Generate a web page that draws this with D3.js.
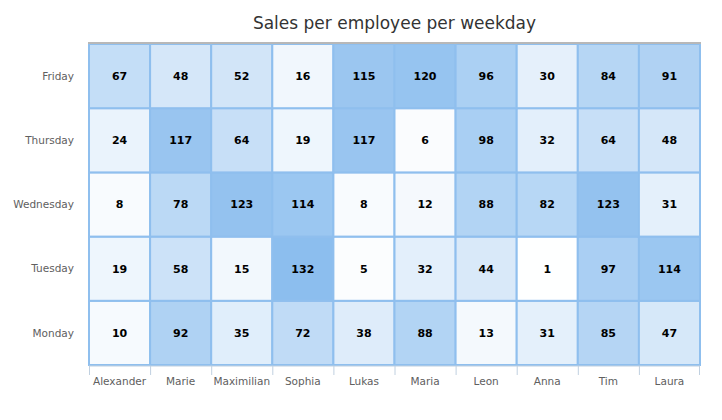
<!DOCTYPE html>
<html>
<head>
    <title>Sales per employee per weekday</title>
    <script src="https://d3js.org/d3.v7.min.js"></script>
    <style>
        body { margin: 0; background: #fff; }
        text { font-family: "DejaVu Sans", sans-serif; }
    </style>
</head>
<body>
    <div id="chart"></div>

    <script>
        const employees = ["Alexander", "Marie", "Maximilian", "Sophia", "Lukas", "Maria", "Leon", "Anna", "Tim", "Laura"];
        const weekdays = ["Monday", "Tuesday", "Wednesday", "Thursday", "Friday"];

        // sales per weekday, one value per employee
        const monday    = [10, 92, 35, 72, 38, 88, 13, 31, 85, 47];
        const tuesday   = [19, 58, 15, 132, 5, 32, 44, 1, 97, 114];
        const wednesday = [8, 78, 123, 114, 8, 12, 88, 82, 123, 31];
        const thursday  = [24, 117, 64, 19, 117, 6, 98, 32, 64, 48];
        const friday    = [67, 48, 52, 16, 115, 120, 96, 30, 84, 91];

        const rows = [monday, tuesday, wednesday, thursday, friday];
        const cells = [];
        rows.forEach((vals, r) => vals.forEach((v, c) => cells.push({ x: employees[c], y: weekdays[r], value: v })));

        const margin = { top: 44, right: 22, bottom: 55, left: 89 };
        const width = 722 - margin.left - margin.right;
        const height = 420 - margin.top - margin.bottom;

        const svg = d3.select("#chart").append("svg")
            .attr("width", 722)
            .attr("height", 420);

        svg.append("text")
            .attr("x", margin.left + width / 2)
            .attr("y", 29)
            .attr("text-anchor", "middle")
            .attr("fill", "#333333")
            .style("font-size", "17px")
            .text("Sales per employee per weekday");

        const g = svg.append("g")
            .attr("transform", "translate(" + margin.left + "," + margin.top + ")");

        const xScale = d3.scaleBand()
            .domain(employees)
            .range([0, width]);

        const yScale = d3.scaleBand()
            .domain(weekdays.slice().reverse())
            .range([0, height]);

        const color = d3.scaleLinear()
            .domain([0, 150])
            .range(["#ffffff", "#7cb5ec"]);

        g.selectAll("rect")
            .data(cells)
            .enter()
            .append("rect")
            .attr("x", d => xScale(d.x))
            .attr("y", d => yScale(d.y))
            .attr("width", xScale.bandwidth())
            .attr("height", yScale.bandwidth())
            .attr("fill", d => color(d.value))
            .attr("stroke", "#8fbfee")
            .attr("stroke-width", 2);

        g.selectAll(".label")
            .data(cells)
            .enter()
            .append("text")
            .attr("class", "label")
            .attr("x", d => xScale(d.x) + xScale.bandwidth() / 2)
            .attr("y", d => yScale(d.y) + yScale.bandwidth() / 2)
            .attr("dy", "0.35em")
            .attr("text-anchor", "middle")
            .attr("fill", "#000")
            .style("font-size", "11px")
            .style("font-weight", "bold")
            .text(d => d.value);

        // gray line along the top of the plot
        g.append("line")
            .attr("x1", -1).attr("x2", width + 1)
            .attr("y1", -1).attr("y2", -1)
            .attr("stroke", "#b8b8b8")
            .attr("stroke-width", 2);

        // x axis, ticks between categories
        const xAxis = g.append("g")
            .attr("transform", "translate(0," + (height + 1) + ")");
        xAxis.append("line")
            .attr("x1", 0).attr("x2", width)
            .attr("stroke", "#c0d0e0");
        xAxis.selectAll(".tick")
            .data(employees.concat(["end"]))
            .enter()
            .append("line")
            .attr("x1", (d, i) => i < employees.length ? xScale(d) + 0.5 : width - 0.5)
            .attr("x2", (d, i) => i < employees.length ? xScale(d) + 0.5 : width - 0.5)
            .attr("y1", 0).attr("y2", 9)
            .attr("stroke", "#c0d0e0");
        xAxis.selectAll(".xl")
            .data(employees)
            .enter()
            .append("text")
            .attr("x", d => xScale(d) + xScale.bandwidth() / 2)
            .attr("y", 19)
            .attr("text-anchor", "middle")
            .attr("fill", "#606060")
            .style("font-size", "10.5px")
            .text(d => d);

        g.selectAll(".yl")
            .data(weekdays)
            .enter()
            .append("text")
            .attr("x", -15)
            .attr("y", d => yScale(d) + yScale.bandwidth() / 2)
            .attr("dy", "0.35em")
            .attr("text-anchor", "end")
            .attr("fill", "#606060")
            .style("font-size", "10.5px")
            .text(d => d);
    </script>
</body>
</html>
